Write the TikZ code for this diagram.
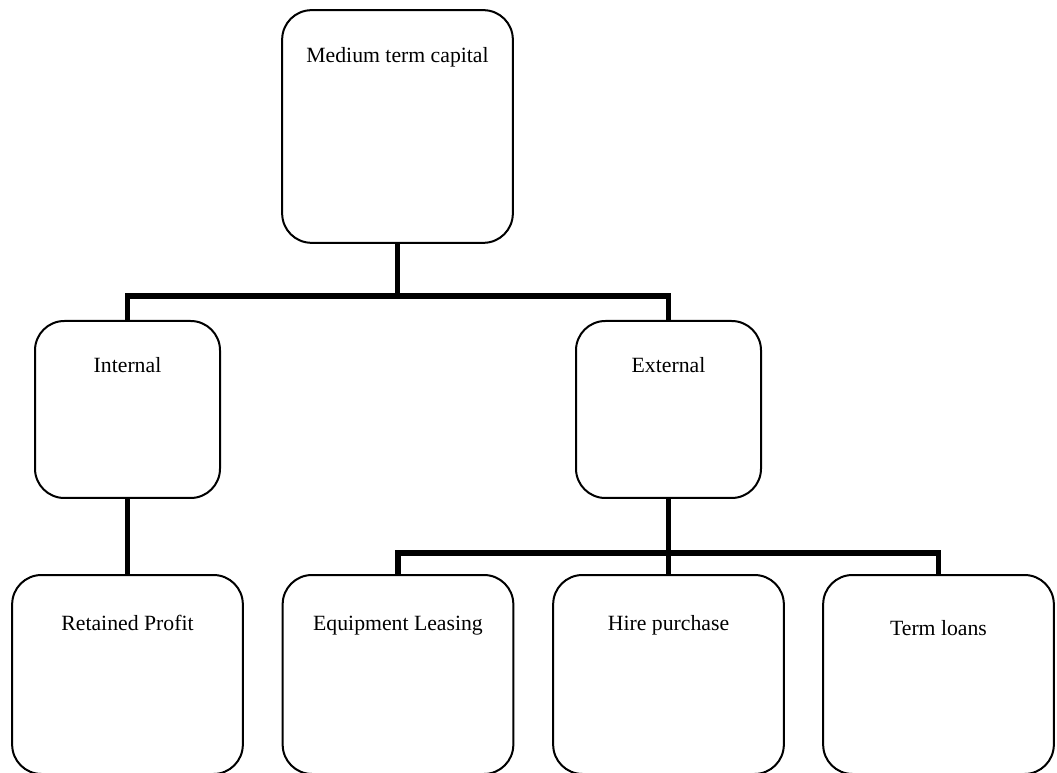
\documentclass[tikz,border=0pt]{standalone}
\usepackage{fontspec}
\setmainfont{Liberation Serif}
\begin{document}
\begin{tikzpicture}[x=0.75pt,y=-0.75pt,
  box/.style={draw=black, line width=1.5pt, rounded corners=22pt,
    inner sep=0pt, outer sep=0pt, fill=white},
  bigbox/.style={box, minimum width=173pt, minimum height=174.5pt},
  midbox/.style={box, minimum width=138.75pt, minimum height=132.75pt},
  lowbox/.style={box, minimum width=173pt, minimum height=149.25pt},
  caption/.style={font=\fontsize{16.3}{19}\selectfont, anchor=base},
  conn/.style={line width=3.8pt, line join=miter, line cap=butt}]
\useasboundingbox (0,0) rectangle (1057,773);

% boxes
\node[bigbox] (top) at (397.5,126.5) {};
\node[midbox] (int) at (127.5,409.5) {};
\node[midbox] (ext) at (668.5,409.5) {};
\node[lowbox] (rp) at (127.5,674.5) {};
\node[lowbox] (eq) at (398,674.5) {};
\node[lowbox] (hp) at (668.5,674.5) {};
\node[lowbox] (tl) at (938.5,674.5) {};

% captions near the top of each box
\node[caption] (topt) at ([yshift=-39.5pt]top.north) {Medium term capital};
\node[caption] (intt) at ([yshift=-39pt]int.north) {Internal};
\node[caption] (extt) at ([yshift=-39pt]ext.north) {External};
\node[caption] (rpt) at ([yshift=-41.5pt]rp.north) {Retained Profit};
\node[caption] (eqt) at ([yshift=-41.5pt]eq.north) {Equipment Leasing};
\node[caption] (hpt) at ([yshift=-41.25pt]hp.north) {Hire purchase};
\node[caption] (tlt) at ([yshift=-45.5pt]tl.north) {Term loans};

% junctions of the tree
\coordinate (j1) at (397.5,296);
\coordinate (j2) at (668.5,553);

% connectors
\draw[conn] (top.south) -- (j1);
\draw[conn] (int.north) |- (j1) -| (ext.north);
\draw[conn] (int.south) -- (rp.north);
\draw[conn] (ext.south) -- (j2);
\draw[conn] (eq.north) |- (j2) -| (tl.north);
\draw[conn] (j2) -- (hp.north);
\end{tikzpicture}
\end{document}
